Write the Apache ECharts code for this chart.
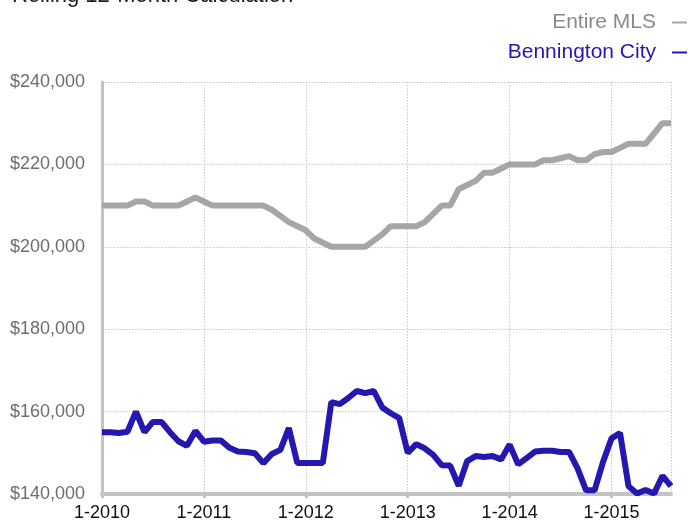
<!DOCTYPE html>
<html><head><meta charset="utf-8">
<script src="https://cdn.jsdelivr.net/npm/echarts@6/dist/echarts.min.js"></script>
<style>html,body{margin:0;padding:0;background:#fff}#c{width:689px;height:527px}</style>
</head><body><div id="c"></div>
<script>
const categories = [
'1-2010','2-2010','3-2010','4-2010','5-2010','6-2010','7-2010','8-2010','9-2010','10-2010','11-2010','12-2010',
'1-2011','2-2011','3-2011','4-2011','5-2011','6-2011','7-2011','8-2011','9-2011','10-2011','11-2011','12-2011',
'1-2012','2-2012','3-2012','4-2012','5-2012','6-2012','7-2012','8-2012','9-2012','10-2012','11-2012','12-2012',
'1-2013','2-2013','3-2013','4-2013','5-2013','6-2013','7-2013','8-2013','9-2013','10-2013','11-2013','12-2013',
'1-2014','2-2014','3-2014','4-2014','5-2014','6-2014','7-2014','8-2014','9-2014','10-2014','11-2014','12-2014',
'1-2015','2-2015','3-2015','4-2015','5-2015','6-2015','7-2015','8-2015'];
const entireMLS = [
210000,210000,210000,210000,211000,211000,210000,210000,210000,210000,211000,212000,
211000,210000,210000,210000,210000,210000,210000,210000,209000,207500,206000,205000,
204000,202000,201000,200000,200000,200000,200000,200000,201500,203000,205000,205000,
205000,205000,206000,208000,210000,210000,214000,215000,216000,218000,218000,219000,
220000,220000,220000,220000,221000,221000,221500,222000,221000,221000,222500,223000,
223000,224000,225000,225000,225000,227500,230000,230000];
const bennington = [
155000,155000,154800,155100,160000,155000,157500,157500,155000,152800,151700,155300,
152700,153000,153000,151200,150300,150200,149900,147500,149700,150700,156000,147500,
147500,147500,147500,162300,161800,163300,165000,164500,165000,161000,159600,158400,
150000,152100,151100,149500,147000,146900,142000,148000,149200,149000,149200,148400,
152000,147200,148700,150300,150500,150500,150200,150200,146200,140900,140900,147800,
153500,154800,141900,140100,141000,140100,144400,141900];
const yTicks = { min: 140000, max: 240000, interval: 20000 };
const seriesNames = ['Entire MLS', 'Bennington City'];
const seriesColors = ['#a6a6a6', '#2418b0'];

const FONT = "'Liberation Sans', Arial, Helvetica, sans-serif";
const chart = echarts.init(document.getElementById('c'), null, {renderer: 'canvas'});
const isYear = (i) => i % 12 === 0;
chart.setOption({
  animation: false,
  title: {
    text: 'Rolling 12-Month Calculation', left: 7, top: -20,
    textStyle: {fontFamily: FONT, fontSize: 22, fontWeight: 'normal', color: '#1a1a1a'}
  },
  legend: {
    orient: 'vertical', right: 2, top: 12, align: 'right', itemGap: 9, padding: 0,
    itemWidth: 15, itemHeight: 2, icon: 'rect',
    data: [
      {name: seriesNames[0], textStyle: {color: '#8a8a8a'}},
      {name: seriesNames[1], textStyle: {color: seriesColors[1]}}
    ],
    textStyle: {fontFamily: FONT, fontSize: 21, padding: [0, 11, 0, 0]}
  },
  grid: {left: 102, right: 18, top: 82, bottom: 33, containLabel: false},
  xAxis: {
    type: 'category', data: categories, boundaryGap: false,
    axisLine: {show: true, onZero: false, lineStyle: {color: '#c3c3c3', width: 4}},
    axisTick: {show: true, length: 4, interval: (i) => isYear(i), lineStyle: {color: '#c3c3c3', width: 3}},
    axisLabel: {interval: (i) => isYear(i), color: '#111', fontFamily: FONT, fontSize: 18, margin: 10},
    splitLine: {show: true, interval: (i) => isYear(i) || i === categories.length - 1,
      lineStyle: {color: '#c8c8c8', type: [1.5, 1.5], width: 1}}
  },
  yAxis: {
    type: 'value', min: yTicks.min, max: yTicks.max, interval: yTicks.interval,
    axisLine: {show: true, lineStyle: {color: '#c3c3c3', width: 3}},
    axisTick: {show: false},
    axisLabel: {color: '#6e6e6e', fontFamily: FONT, fontSize: 18, margin: 17,
      formatter: (v) => '$' + v.toLocaleString('en-US')},
    splitLine: {show: true, lineStyle: {color: '#c8c8c8', type: [1.5, 1.5], width: 1}}
  },
  series: [
    {name: seriesNames[0], type: 'line', data: entireMLS, symbol: 'none',
      lineStyle: {color: seriesColors[0], width: 6}, itemStyle: {color: seriesColors[0]}},
    {name: seriesNames[1], type: 'line', data: bennington, symbol: 'none',
      lineStyle: {color: seriesColors[1], width: 6}, itemStyle: {color: seriesColors[1]}}
  ]
});
</script></body></html>
